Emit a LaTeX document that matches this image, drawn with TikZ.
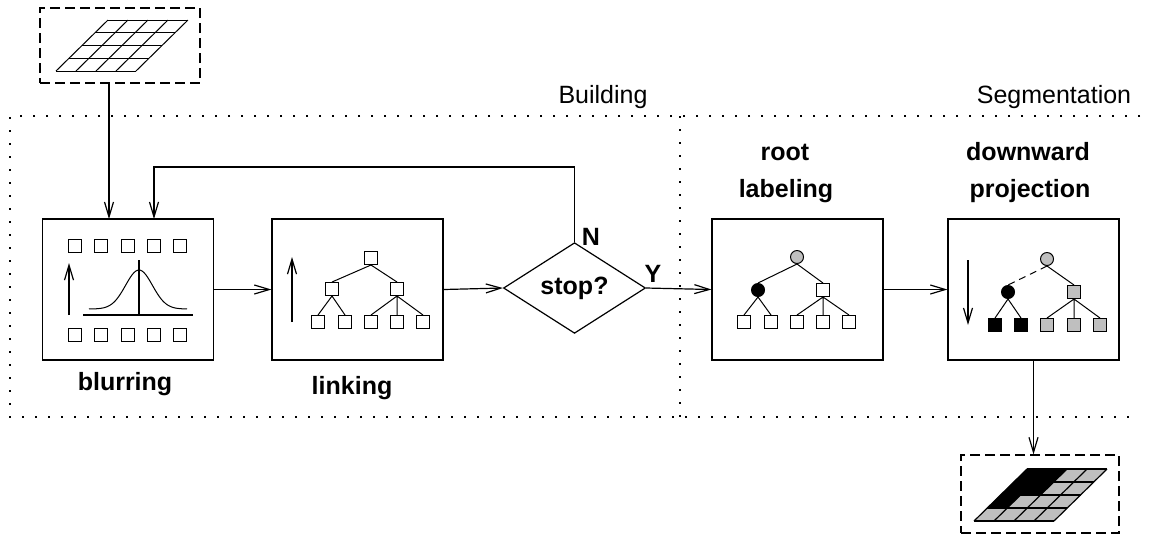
\documentclass[tikz,border=0pt]{standalone}
\usepackage{fontspec}
\setmainfont{Liberation Sans}
\usetikzlibrary{shapes.geometric,arrows.meta}

\begin{document}
\begin{tikzpicture}[x=0.5pt, y=-0.5pt, line width=0.6pt,
  every node/.style={font=\fontsize{12.5}{15}\selectfont},
  stepbox/.style={draw, minimum width=85.5pt, minimum height=70.5pt, inner sep=0pt},
  framebox/.style={draw, dash pattern=on 5pt off 2.5pt, inner sep=0pt},
  sq/.style={draw, inner sep=0pt, minimum size=6.5pt, line width=0.5pt},
  dot/.style={draw, circle, inner sep=0pt, minimum size=6.5pt, line width=0.5pt},
  region/.style={line width=1pt, dash pattern=on 1pt off 5.5pt},
  arr/.style={-{Straight Barb[length=7.5pt,width=4.5pt]}},
  lbl/.style={font=\bfseries\fontsize{12.5}{15}\selectfont}]
  \useasboundingbox (0,0) rectangle (1149,538);

  \draw[region] (1140,116) -- (10,116) -- (10,417) -- (1140,417);
  \draw[region] (680,116) -- (680,417);
  \node[anchor=base] (bld) at (603,103) {Building};
  \node[anchor=base] (seg) at (1054,103) {Segmentation};

  \node[framebox, minimum width=80pt, minimum height=37.5pt] (inbox) at (120,45.5) {};
  \foreach \i in {0,...,4} {
    \draw[line width=0.5pt] (56+20*\i,71) -- (108+20*\i,20);
    \draw[line width=0.5pt] (56+13*\i,71-12.75*\i) -- (136+13*\i,71-12.75*\i);
  }

  \node[stepbox] (blur) at (128,289.5) {};
  \foreach \x [count=\i] in {75,101,128,154,180} {
    \node[sq] (bt\i) at (\x,245.5) {};
    \node[sq] (bb\i) at (\x,335) {};
  }
  \draw[arr] (69,315) -- (69,263);
  \draw (83,315) -- (193,315);
  \draw (139,315) -- (139,260);
  \draw[line width=0.5pt, domain=89:187, samples=60, smooth]
    plot (\x, {309-39*exp(-((\x-139)/19)*((\x-139)/19))});
  \node[lbl, anchor=base] (blurlbl) at (125,390) {blurring};

  \node[stepbox] (link) at (357.5,289.5) {};
  \draw[arr] (292,322) -- (292,257);
  \node[sq] (l0) at (371,258) {};
  \node[sq] (l1) at (332,289) {};
  \node[sq] (l2) at (397,289) {};
  \foreach \x [count=\i] in {318,345,371,397,423}
    \node[sq] (ll\i) at (\x,322) {};
  \draw[line width=0.5pt] (l0.south) -- (l1.north) (l0.south) -- (l2.north)
    (l1.south) -- (ll1.north) (l1.south) -- (ll2.north)
    (l2.south) -- (ll3.north) (l2.south) -- (ll4.north) (l2.south) -- (ll5.north);
  \node[lbl, anchor=base] (linklbl) at (352,394) {linking};

  \node[draw, diamond, minimum width=71pt, minimum height=37pt, inner sep=0pt, lbl]
    (stop) at (574.5,288) {stop?};
  \node[lbl, anchor=base] (no) at (591,245) {N};
  \node[lbl, anchor=base] (yes) at (653,282) {Y};

  \node[stepbox] (root) at (797.5,289.5) {};
  \node[dot, fill=black!25] (r0) at (797,257) {};
  \node[dot, fill=black] (r1) at (758,290) {};
  \node[sq] (r2) at (823,290) {};
  \foreach \x [count=\i] in {744,771,797,823,849}
    \node[sq] (rl\i) at (\x,322) {};
  \draw[line width=0.5pt] (r0.south) -- (r1.north) (r0.south) -- (r2.north)
    (r1.south) -- (rl1.north) (r1.south) -- (rl2.north)
    (r2.south) -- (rl3.north) (r2.south) -- (rl4.north) (r2.south) -- (rl5.north);
  \node[lbl, anchor=base] (rootlbl) at (785,160) {root};
  \node[lbl, anchor=base] (rootlbl2) at (786,197) {labeling};

  \node[stepbox] (down) at (1033.5,289.5) {};
  \draw[arr] (968,260) -- (968,325);
  \node[dot, fill=black!25] (d0) at (1047,259) {};
  \node[dot, fill=black] (d1) at (1008,292) {};
  \node[sq, fill=black!25] (d2) at (1074,292) {};
  \node[sq, fill=black] (dl1) at (995,325) {};
  \node[sq, fill=black] (dl2) at (1021,325) {};
  \node[sq, fill=black!25] (dl3) at (1047,325) {};
  \node[sq, fill=black!25] (dl4) at (1074,325) {};
  \node[sq, fill=black!25] (dl5) at (1100,325) {};
  \draw[line width=0.5pt, dash pattern=on 3.5pt off 2.5pt] (d0.south) -- (d1.north);
  \draw[line width=0.5pt] (d0.south) -- (d2.north)
    (d1.south) -- (dl1.north) (d1.south) -- (dl2.north)
    (d2.south) -- (dl3.north) (d2.south) -- (dl4.north) (d2.south) -- (dl5.north);
  \node[lbl, anchor=base] (downlbl) at (1028,160) {downward};
  \node[lbl, anchor=base] (downlbl2) at (1030,197) {projection};

  \node[framebox, minimum width=79pt, minimum height=39pt] (outbox) at (1040,494) {};
  \fill[black!25] (974,521) -- (1054,521) -- (1107,469) -- (1027,469) -- cycle;
  \fill[black] (987.25,508) -- (1007.25,508) -- (1020.5,495) -- (1040.5,495)
    -- (1067,469) -- (1027,469) -- cycle;
  \foreach \i in {0,...,4} {
    \draw[line width=0.6pt] (974+20*\i,521) -- (1027+20*\i,469);
    \draw[line width=0.6pt] (974+13.25*\i,521-13*\i) -- (1054+13.25*\i,521-13*\i);
  }

  \coordinate (blurA) at (109,219);
  \coordinate (blurB) at (154,219);
  \draw[arr] (inbox.south -| blurA) -- (blurA);
  \draw[arr] (stop.north) -- (stop.north |- 0,167) -| (blurB);
  \draw[arr] (blur.east) -- (link.west);
  \draw[arr] (link.east) -- (stop.west);
  \draw[arr] (stop.east) -- (root.west);
  \draw[arr] (root.east) -- (down.west);
  \draw[arr] (down.south) -- (outbox.north -| down.south);
\end{tikzpicture}
\end{document}
